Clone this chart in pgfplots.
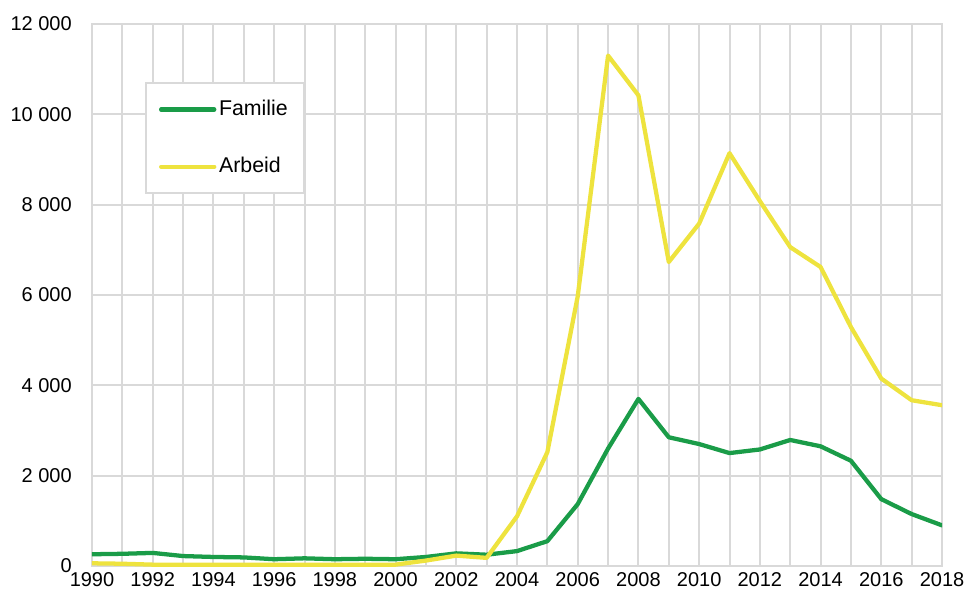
\documentclass[border=0pt]{standalone}
\usepackage{fontspec}
\setmainfont{Liberation Sans}
\usepackage{pgfplots}
\pgfplotsset{compat=1.18}
\definecolor{famcol}{HTML}{1A9C48}
\definecolor{arbcol}{HTML}{EEE33E}
\definecolor{gridcol}{HTML}{D9D9D9}

\pgfplotstableread{
year familie arbeid
1990 260 60
1991 270 50
1992 290 30
1993 220 30
1994 200 30
1995 190 30
1996 150 25
1997 170 25
1998 150 30
1999 160 30
2000 150 30
2001 200 120
2002 280 230
2003 250 180
2004 330 1100
2005 550 2520
2006 1370 5970
2007 2600 11300
2008 3700 10420
2009 2850 6730
2010 2700 7580
2011 2500 9140
2012 2580 8080
2013 2790 7060
2014 2650 6620
2015 2330 5290
2016 1480 4150
2017 1150 3670
2018 900 3560
}\datatable

\begin{document}
\fontsize{15}{17}\selectfont
\begin{tikzpicture}
% fix page to the reference frame: 1px = 0.75pt
\useasboundingbox (-69pt,-19.5pt) rectangle (655.5pt,424.5pt);
\begin{axis}[
  at={(0,0)}, anchor=south west,
  scale only axis,
  width=637.5pt, height=406.5pt,
  xmin=1990, xmax=2018, ymin=0, ymax=12000,
  xtick={1990,1992,...,2018},
  minor xtick={1991,1993,...,2017},
  ytick={0,2000,...,12000},
  major tick length=0pt, minor tick length=0pt,
  xmajorgrids, xminorgrids, ymajorgrids,
  grid style={gridcol, line width=1.5pt},
  minor grid style={gridcol, line width=1.5pt},
  axis line style={gridcol, line width=1.5pt},
  /pgf/number format/assume math mode=true,
  tick label style={font=\fontsize{15}{17}\selectfont},
  yticklabel style={/pgf/number format/1000 sep={\ }, xshift=-10pt},
  xticklabel style={/pgf/number format/1000 sep={}, yshift=0pt},
  scaled y ticks=false,
  legend cell align=left,
  legend style={at={(0.062,0.893)}, anchor=north west, draw=gridcol,
    line width=1.5pt, font=\fontsize{16}{18}\selectfont,
    inner xsep=10pt, inner ysep=11pt, row sep=25pt},
  legend image code/.code={\draw[#1, line width=3.2pt] (0cm,0cm) -- (1.4cm,0cm);},
]
\addplot[famcol, line width=3.2pt, line join=round, line cap=round] table[x=year, y=familie] {\datatable};
\addlegendentry{Familie}
\addplot[arbcol, line width=3.2pt, line join=round, line cap=round] table[x=year, y=arbeid] {\datatable};
\addlegendentry{Arbeid}
\end{axis}
\end{tikzpicture}
\end{document}
